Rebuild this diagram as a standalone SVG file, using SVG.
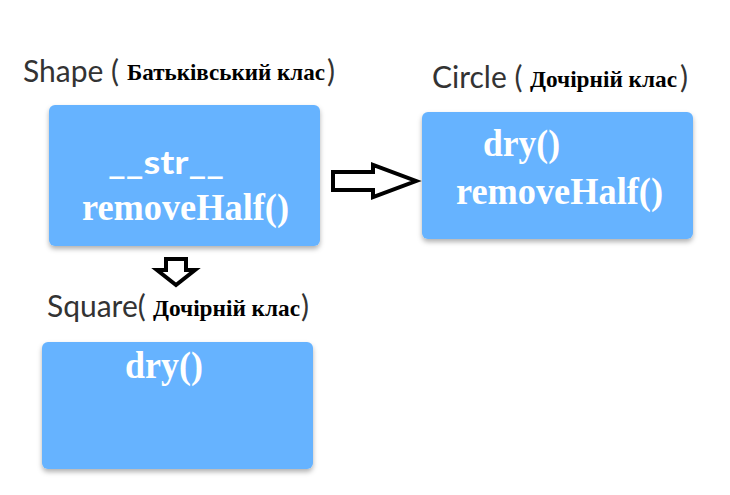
<svg xmlns="http://www.w3.org/2000/svg" width="730" height="495" viewBox="0 0 730 495">
<defs>
<filter id="sh" x="-10%" y="-10%" width="120%" height="130%">
<feDropShadow dx="0" dy="3" stdDeviation="2.5" flood-color="#000" flood-opacity="0.3"/>
</filter>
</defs>
<style>
.box{fill:#66b3ff;filter:url(#sh)}
.lbl{font-family:Lato,"Open Sans",sans-serif;font-size:30px;fill:#333;font-weight:normal}
.sub{font-family:"Liberation Serif","Times New Roman",serif;font-size:23px;font-weight:bold;fill:#000}
.m{font-family:"Liberation Serif","Times New Roman",serif;font-size:37px;font-weight:bold;fill:#fff}
.ms{font-family:Lato,sans-serif;font-size:33px;font-weight:bold;fill:#fff}
.arr{fill:#fff;stroke:#000;stroke-width:4;stroke-linejoin:miter}
</style>
<rect width="730" height="495" fill="#fff"/>
<g id="shape">
<text class="lbl" x="23" y="82">Shape (</text>
<text class="sub" x="127" y="80" textLength="198" lengthAdjust="spacingAndGlyphs">Батьківський клас</text>
<text class="lbl" x="327" y="82">)</text>
<rect class="box" x="49" y="105" width="271" height="141" rx="6"/>
<text class="ms" x="108" y="174" textLength="116" lengthAdjust="spacingAndGlyphs">__str__</text>
<text class="m" x="82" y="220" textLength="207" lengthAdjust="spacingAndGlyphs">removeHalf()</text>
</g>
<g id="circle">
<text class="lbl" x="432" y="88">Circle (</text>
<text class="sub" x="530" y="87" textLength="147" lengthAdjust="spacingAndGlyphs">Дочірній клас</text>
<text class="lbl" x="680" y="88">)</text>
<rect class="box" x="422" y="112" width="271" height="127" rx="6"/>
<text class="m" x="483" y="156" textLength="77" lengthAdjust="spacingAndGlyphs">dry()</text>
<text class="m" x="456" y="204" textLength="207" lengthAdjust="spacingAndGlyphs">removeHalf()</text>
</g>
<g id="square">
<text class="lbl" x="47" y="317">Square(</text>
<text class="sub" x="153" y="316" textLength="147" lengthAdjust="spacingAndGlyphs">Дочірній клас</text>
<text class="lbl" x="301" y="317">)</text>
<rect class="box" x="42" y="342" width="271" height="127" rx="6"/>
<text class="m" x="125" y="378" textLength="78" lengthAdjust="spacingAndGlyphs">dry()</text>
</g>
<g id="connectors">
<polygon class="arr" points="333,172 373,172 373,165 416,181 373,197 373,190 333,190"/>
<polygon class="arr" points="166,259 186,259 186,270 195,270 176,285 157,270 166,270"/>
</g>
</svg>
